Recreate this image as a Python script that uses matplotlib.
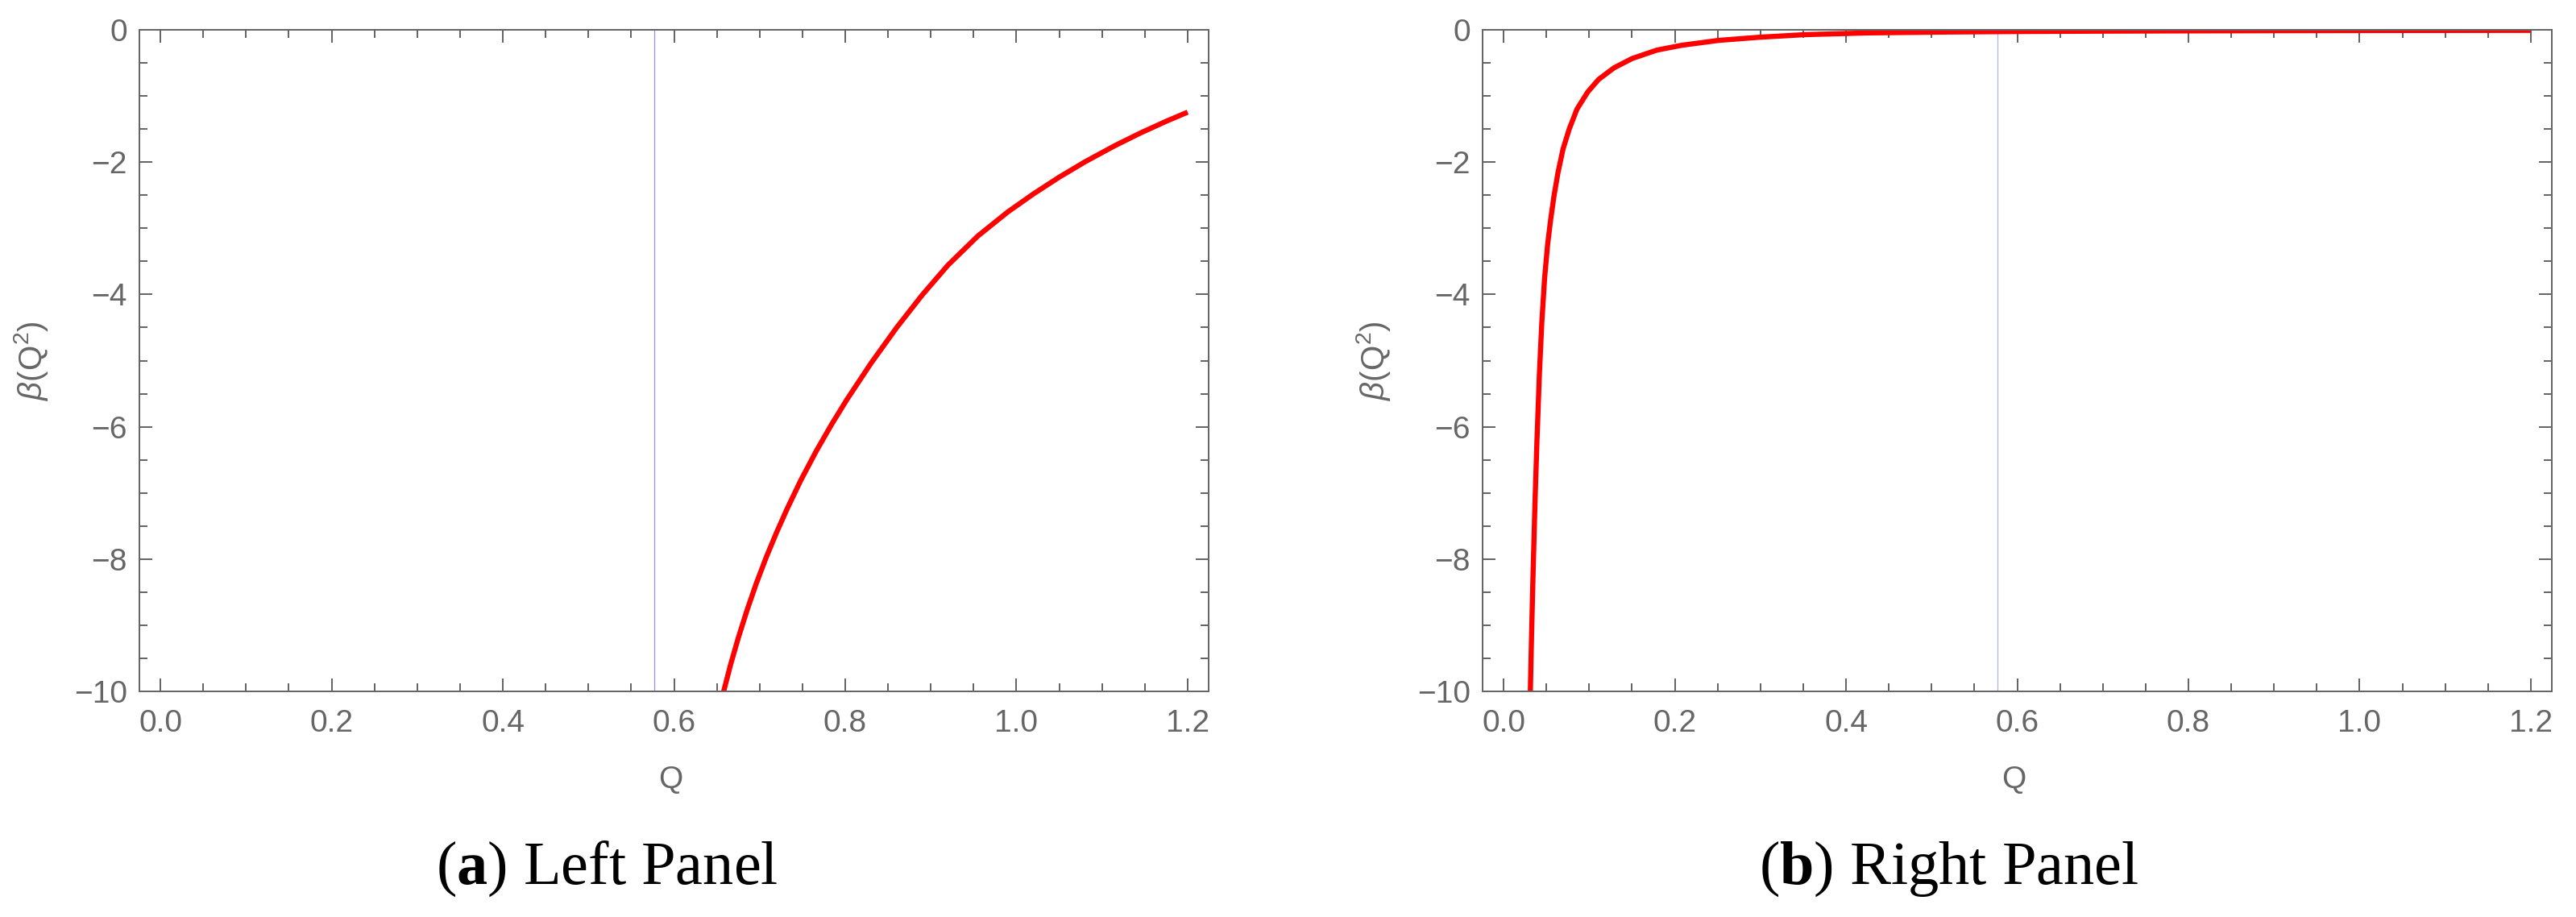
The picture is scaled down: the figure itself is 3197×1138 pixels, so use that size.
#!/usr/bin/env python3
import matplotlib
matplotlib.use("Agg")
import matplotlib.pyplot as plt
from matplotlib.ticker import MultipleLocator, FormatStrFormatter

# values
left_q = [0.652, 0.658, 0.666, 0.675, 0.685, 0.696, 0.708, 0.720, 0.732, 0.748,
          0.766, 0.784, 0.802, 0.830, 0.860, 0.890, 0.920, 0.955, 0.990, 1.020,
          1.050, 1.080, 1.115, 1.145, 1.175, 1.200]
left_beta = [-10.32, -10.00, -9.60, -9.195, -8.785, -8.372, -7.964, -7.592, -7.244, -6.812,
             -6.371, -5.966, -5.588, -5.042, -4.502, -4.007, -3.557, -3.116, -2.752, -2.479,
             -2.227, -1.996, -1.751, -1.559, -1.382, -1.245]

right_q = [0.0305, 0.0313, 0.0328, 0.0346, 0.0367, 0.0389, 0.0418, 0.0446, 0.0479,
           0.0515, 0.0551, 0.0587, 0.0634, 0.0695, 0.0767, 0.0857, 0.0983, 0.111,
           0.129, 0.150, 0.179, 0.208, 0.251, 0.298, 0.352, 0.424, 0.52, 0.60,
           0.70, 0.80, 0.90, 1.00, 1.10, 1.20]
right_beta = [-10.45, -10.0, -9.10, -8.15, -7.16, -6.25, -5.22, -4.44, -3.76,
              -3.24, -2.86, -2.53, -2.17, -1.80, -1.50, -1.20, -0.94, -0.75,
              -0.575, -0.435, -0.307, -0.234, -0.160, -0.113, -0.073, -0.047, -0.033, -0.026,
              -0.020, -0.016, -0.013, -0.011, -0.0095, -0.008]

vline_q = 0.577   # thin blue marker line, same place in both panels
captions = [r"($\mathbf{a}$) Left Panel", r"($\mathbf{b}$) Right Panel"]

plt.rcParams["mathtext.fontset"] = "custom"
plt.rcParams["mathtext.rm"] = "Liberation Sans"
plt.rcParams["mathtext.it"] = "Liberation Sans:italic"
plt.rcParams["mathtext.bf"] = "Liberation Serif:bold"
plt.rcParams["axes.unicode_minus"] = True

W, H = 3197, 1138
fig = plt.figure(figsize=(W / 100, H / 100), dpi=100)

frame_col = "#666666"
# axes boxes in pixels: left, right, top, bottom
boxes = [(173, 1500, 37, 858), (1840, 3167, 37, 858)]
vcols = ["#9090ff", "#b0b0e8"]
series = [(left_q, left_beta), (right_q, right_beta)]
cap_x = [753, 2419]

for i, (l, r, t, b) in enumerate(boxes):
    ax = fig.add_axes([l / W, 1 - b / H, (r - l) / W, (b - t) / H])
    q, beta = series[i]
    ax.axvline(vline_q, color=vcols[i], lw=0.9, zorder=1)
    ax.plot(q, beta, color="red", lw=4.6, solid_capstyle="butt",
            solid_joinstyle="round", zorder=2)

    ax.set_xlim(-0.0245, 1.2245)
    ax.set_ylim(-10, 0)
    ax.xaxis.set_major_locator(MultipleLocator(0.2))
    ax.xaxis.set_minor_locator(MultipleLocator(0.05))
    ax.yaxis.set_major_locator(MultipleLocator(2))
    ax.yaxis.set_minor_locator(MultipleLocator(0.5))
    ax.xaxis.set_major_formatter(FormatStrFormatter("%.1f"))

    for s in ax.spines.values():
        s.set_color(frame_col)
        s.set_linewidth(1.44)
        s.set_zorder(3)
    ax.tick_params(which="both", direction="in", top=True, right=True,
                   color=frame_col, width=1.44, labelcolor=frame_col)
    ax.tick_params(which="major", length=11.5)
    ax.tick_params(which="minor", length=7.2)
    ax.tick_params(axis="x", which="major", pad=15.5)
    ax.tick_params(axis="y", which="major", pad=11)
    for lab in ax.get_xticklabels() + ax.get_yticklabels():
        lab.set_fontfamily("Liberation Sans")
        lab.set_fontsize(28)

    ax.set_xlabel("Q", fontsize=28, family="Liberation Sans", color=frame_col, va="center")
    ax.xaxis.set_label_coords(0.497, (b - 968) / (b - t))
    ax.set_ylabel(r"$\mathit{\beta}(\mathrm{Q}^2)$", fontsize=29, color=frame_col, va="center")
    ax.yaxis.set_label_coords(-135 / (r - l), 0.5)

    fig.text(cap_x[i] / W, 1 - 1097 / H, captions[i], ha="center", va="baseline",
             fontsize=55, family="Liberation Serif", color="black")

fig.savefig("out.png", dpi=100, facecolor="white")
